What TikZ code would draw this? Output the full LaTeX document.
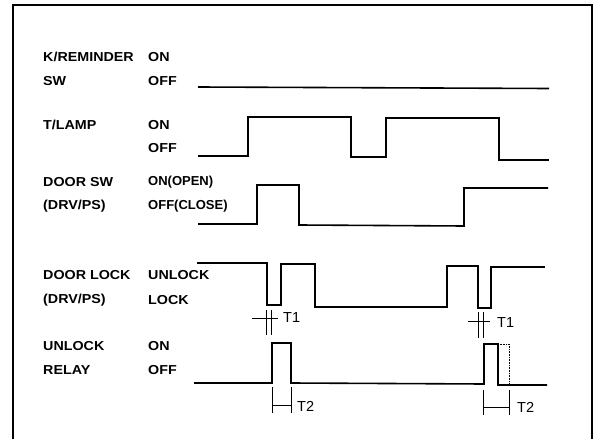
\documentclass[tikz,border=0pt]{standalone}
\usepackage{fontspec}
\setmainfont{Liberation Sans}
\newfontfamily\labfont[FakeStretch=1.1]{Liberation Sans}
\begin{document}
\begin{tikzpicture}[x=1pt,y=-1pt,
  wave/.style={line width=1.6pt, line join=miter},
  lab/.style={anchor=west, inner sep=0pt, font=\labfont\bfseries\fontsize{13}{13}\selectfont},
  labn/.style={anchor=west, inner sep=0pt, font=\bfseries\fontsize{13}{13}\selectfont},
  tlab/.style={anchor=west, inner sep=0pt, font=\fontsize{14.5}{14.5}\selectfont},
  tick/.style={line width=0.8pt},
  frame/.style={line width=1.5pt}]
\useasboundingbox (0,0) rectangle (598,439);
\draw[frame] (13,439) -- (13,5) -- (592,5) -- (592,439);
% labels
\node[lab] (kr)   at (43,57)  {K/REMINDER};
\node[lab] (kron) at (148,57) {ON};
\node[lab] (sw)   at (43,81)  {SW};
\node[lab] (kroff) at (148,81) {OFF};
\node[lab] (tl)   at (43,125) {T/LAMP};
\node[lab] (tlon) at (148,125) {ON};
\node[lab] (tloff) at (148,148) {OFF};
\node[lab] (ds)   at (43,182) {DOOR SW};
\node[labn] (dson) at (148,182) {ON(OPEN)};
\node[lab] (ds2)  at (43,206) {(DRV/PS)};
\node[labn] (dsoff) at (148,206) {OFF(CLOSE)};
\node[lab] (dl)   at (43,275) {DOOR LOCK};
\node[lab] (dlun) at (148,275) {UNLOCK};
\node[lab] (dl2)  at (43,300) {(DRV/PS)};
\node[lab] (dllk) at (148,300) {LOCK};
\node[lab] (ur)   at (43,346) {UNLOCK};
\node[lab] (uron) at (148,346) {ON};
\node[lab] (ur2)  at (43,370) {RELAY};
\node[lab] (uroff) at (148,370) {OFF};
% waveforms
\draw[wave] (198,87) -- (549,88.5);
\draw[wave] (198,156) -- (248,156) -- (248,117) -- (351,117) -- (351,157) -- (386,157) -- (386,118) -- (499,118) -- (499,160) -- (549,160);
\draw[wave] (198,224) -- (257,224) -- (257,185) -- (299,185) -- (299,225) -- (464,226) -- (464,188) -- (548,188);
\draw[wave] (197,263) -- (267,263) -- (267,305) -- (281,305) -- (281,264) -- (315,264) -- (315,307) -- (447,307) -- (447,266) -- (478,266) -- (478,308) -- (491,308) -- (491,267) -- (545,267);
\draw[wave] (194,383) -- (272,383) -- (272,343) -- (291,343) -- (291,383) -- (484,384) -- (484,344) -- (498,344) -- (498,385) -- (547,385);
\draw[densely dotted, line width=0.6pt] (498,344) -- (509,344) -- (509,385);
% T1 markers
\draw[tick] (266,310) -- (266,335) (271,310) -- (271,335) (252,318) -- (278,318);
\node[tlab] (t1a) at (283,318) {T1};
\draw[tick] (478,312) -- (478,338) (483,312) -- (483,338) (468,321) -- (490,321);
\node[tlab] (t1b) at (497,323) {T1};
% T2 markers
\draw[tick] (272,387) -- (272,413) (291,387) -- (291,413) (272,405) -- (291,405);
\node[tlab] (t2a) at (297,406) {T2};
\draw[tick] (483,390) -- (483,415) (509,390) -- (509,415) (483,407) -- (509,407);
\node[tlab] (t2b) at (517,407) {T2};
\end{tikzpicture}
\end{document}
